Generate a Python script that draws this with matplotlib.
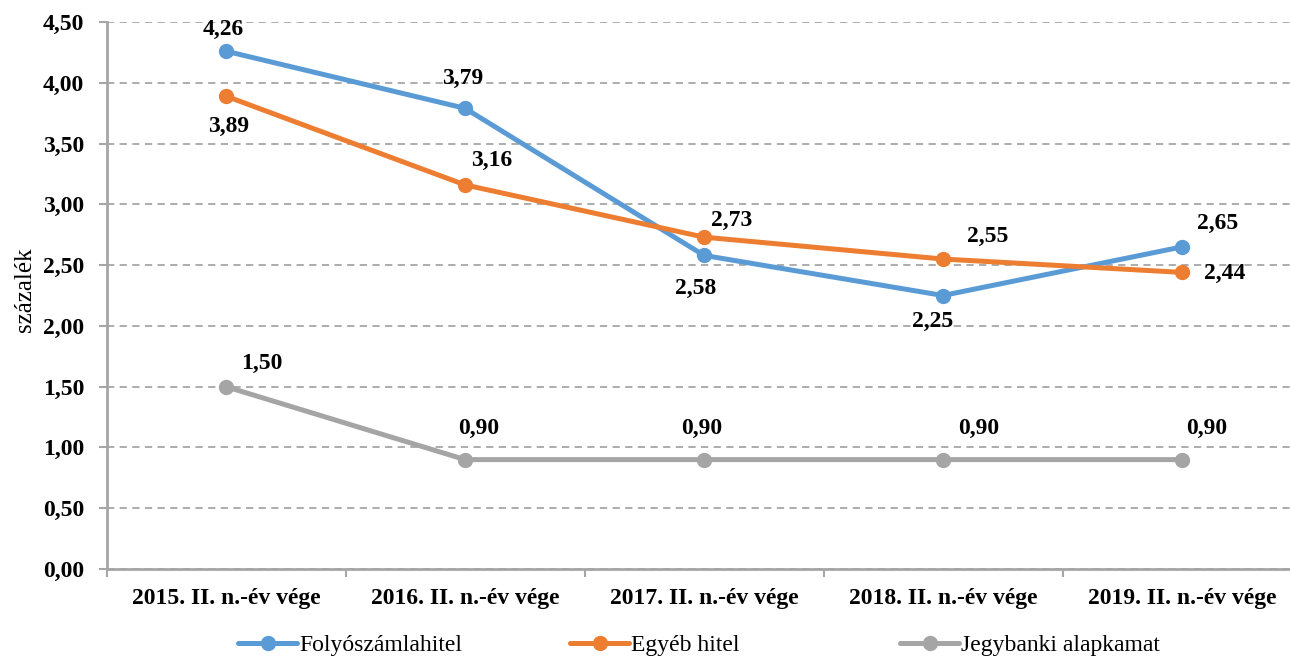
import numpy as np
import matplotlib.pyplot as plt
from matplotlib.ticker import FuncFormatter, MultipleLocator, FixedLocator

plt.rcParams['font.family'] = ['Liberation Serif', 'DejaVu Serif']

categories = ["2015. II. n.-év vége", "2016. II. n.-év vége", "2017. II. n.-év vége",
              "2018. II. n.-év vége", "2019. II. n.-év vége"]
folyo = [4.26, 3.79, 2.58, 2.25, 2.65]
egyeb = [3.89, 3.16, 2.73, 2.55, 2.44]
jegybank = [1.50, 0.90, 0.90, 0.90, 0.90]

# label offsets in pixels
series = [
    ("Folyószámlahitel", folyo, "#5B9BD5",
     [(-3, 22), (-2, 30), (-8, -33), (-10, -26), (36, 23)]),
    ("Egyéb hitel", egyeb, "#ED7D31",
     [(3, -30), (27, 24), (28, 17), (45, 23), (43, -1)]),
    ("Jegybanki alapkamat", jegybank, "#A5A5A5",
     [(36, 23), (14, 31), (-2, 31), (36, 31), (25, 31)]),
]

fig = plt.figure(figsize=(12.9, 6.58), dpi=100)
ax = fig.add_axes([106.5 / 1290, 1 - 569 / 658, 1195 / 1290, 547 / 658])

x = np.arange(len(categories))
lines = []
for name, vals, col, offs in series:
    ln, = ax.plot(x, vals, color=col, lw=3.6, marker="o", ms=10, label=name,
                  solid_capstyle="round", zorder=3)
    lines.append(ln)
    for xi, v, (dx, dy) in zip(x, vals, offs):
        ax.annotate(f"{v:.2f}".replace(".", ","), (xi, v), xytext=(dx, dy),
                    textcoords="offset pixels", ha="center", va="center",
                    fontsize=17, fontweight="bold", zorder=4)

ax.set_xlim(-0.5, len(categories) - 0.5)
ax.set_ylim(0, 4.5)
ax.yaxis.set_major_locator(MultipleLocator(0.5))
ax.yaxis.set_major_formatter(FuncFormatter(lambda v, p: f"{v:.2f}".replace(".", ",")))
ax.set_xticks(x)
ax.set_xticklabels(categories)
ax.xaxis.set_minor_locator(FixedLocator(np.arange(-0.5, len(categories), 1.0)))
ax.tick_params(axis="x", which="major", length=0, pad=14)
ax.tick_params(axis="x", which="minor", length=6, width=1.5, color="#A6A6A6")
ax.tick_params(axis="y", length=6, width=1.5, color="#A6A6A6", pad=10)
for lab in ax.get_xticklabels() + ax.get_yticklabels():
    lab.set_fontweight("bold")
    lab.set_fontsize(17)

ax.grid(axis="y", color="#A6A6A6", ls=(0, (4, 3)), lw=1.3)
ax.set_axisbelow(True)
for s in ["top", "right"]:
    ax.spines[s].set_visible(False)
for s in ["left", "bottom"]:
    ax.spines[s].set_color("#A6A6A6")
    ax.spines[s].set_linewidth(2)

ax.set_ylabel("százalék", fontsize=18, labelpad=5)
ax.yaxis.label.set_y(0.51)

# one legend per entry so the entries sit at equal spacing like the original
for ln, xpos in zip(lines, [238, 570, 900]):
    fig.legend(handles=[ln], loc="center left", frameon=False, fontsize=17,
               bbox_to_anchor=(xpos / 1290, 1 - 645 / 658), handlelength=2.5,
               handletextpad=0.1, borderpad=0, borderaxespad=0)

fig.savefig("out.png", dpi=100)
